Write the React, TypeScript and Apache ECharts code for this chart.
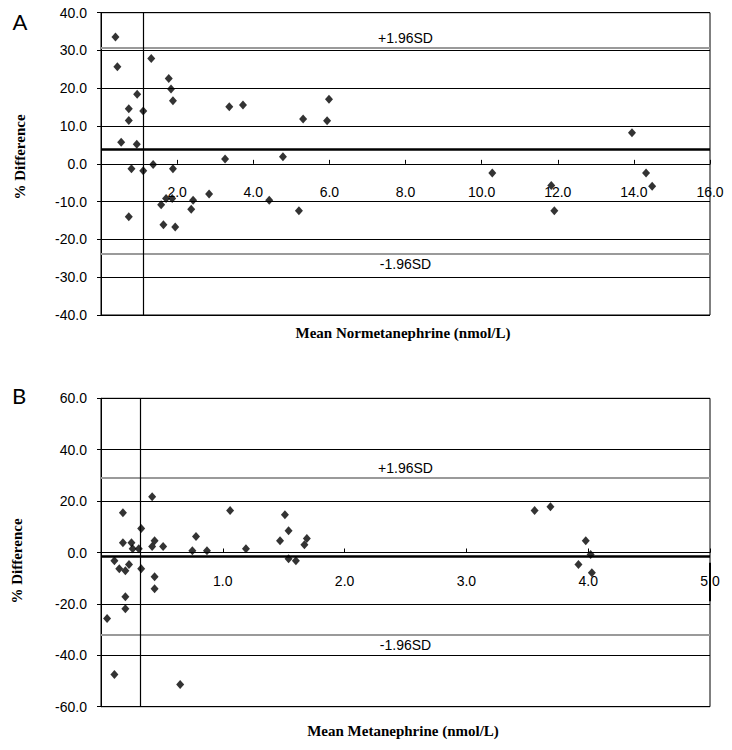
import React, { useEffect, useRef } from "react";
import * as echarts from "echarts";

// Panel A: Normetanephrine
const normX = [0.38, 0.43, 1.32, 1.78, 1.84, 1.89, 0.95, 0.73, 0.73, 1.11, 0.53, 0.94, 0.8, 1.11, 1.37, 1.89, 0.73, 1.58, 1.71, 1.87, 1.64, 1.95, 2.42, 2.37, 2.84, 3.26, 3.37, 3.73, 4.42, 4.78, 5.2, 5.31, 5.94, 5.99, 13.95, 10.28, 14.32, 11.83, 14.48, 11.91];
const normDiff = [33.6, 25.7, 27.9, 22.6, 19.8, 16.7, 18.4, 14.6, 11.5, 14.0, 5.7, 5.2, -1.3, -1.8, -0.2, -1.3, -14.0, -10.8, -9.2, -9.2, -16.1, -16.7, -9.6, -12.0, -8.0, 1.3, 15.1, 15.6, -9.6, 1.9, -12.4, 11.9, 11.4, 17.1, 8.2, -2.4, -2.4, -5.7, -5.9, -12.4];
const normMean = 3.8;
const normUpper = 30.7;
const normLower = -23.9;
const normCross = 1.1;

// Panel B: Metanephrine
const metaX = [0.05, 0.11, 0.11, 0.15, 0.18, 0.18, 0.2, 0.2, 0.2, 0.23, 0.25, 0.26, 0.31, 0.33, 0.33, 0.42, 0.42, 0.44, 0.44, 0.44, 0.51, 0.65, 0.75, 0.78, 0.87, 1.06, 1.19, 1.47, 1.51, 1.54, 1.54, 1.6, 1.67, 1.69, 3.56, 3.69, 3.98, 4.02, 3.92, 4.03];
const metaDiff = [-25.7, -47.5, -3.2, -6.3, 15.5, 3.8, -7.1, -17.2, -21.9, -4.7, 3.8, 1.5, 1.5, 9.3, -6.3, 21.7, 2.3, 4.6, -9.4, -14.1, 2.3, -51.4, 0.7, 6.2, 0.7, 16.3, 1.5, 4.6, 14.7, 8.5, -2.4, -3.2, 3.0, 5.4, 16.3, 17.8, 4.6, -0.8, -4.7, -7.9];
const metaMean = -1.4;
const metaUpper = 28.9;
const metaLower = -32.1;
const metaCross = 0.32;

const LABEL_FONT = "'Liberation Sans', Arial, sans-serif";
const TITLE_FONT = "'Liberation Serif', 'Times New Roman', serif";

function limitLines(mean: number, upper: number, lower: number, cross: number, extra: any[] = []) {
  return {
    silent: true,
    symbol: "none",
    animation: false,
    lineStyle: { type: "solid", color: "#000" },
    data: [
      {
        yAxis: mean,
        lineStyle: { color: "#000", width: 2.5, type: "solid" },
        label: { show: false },
      },
      {
        yAxis: upper,
        lineStyle: { color: "#9a9a9a", width: 2, type: "solid" },
        label: {
          show: true,
          position: "insideMiddleTop",
          formatter: "+1.96SD",
          color: "#000",
          fontSize: 14,
          fontFamily: LABEL_FONT,
          distance: 3,
        },
      },
      {
        yAxis: lower,
        lineStyle: { color: "#9a9a9a", width: 2, type: "solid" },
        label: {
          show: true,
          position: "insideMiddleBottom",
          formatter: "-1.96SD",
          color: "#000",
          fontSize: 14,
          fontFamily: LABEL_FONT,
          distance: 3,
        },
      },
      {
        xAxis: cross,
        lineStyle: { color: "#000", width: 1.2, type: "solid" },
        label: { show: false },
      },
      ...extra,
    ],
  };
}

// x axis is drawn at y = 0: shifted up from the bottom by half the grid height
function xAxisDef(gridIndex: number, max: number, interval: number, zeroOffset: number) {
  return {
    type: "value",
    gridIndex,
    min: 0,
    max,
    interval,
    position: "bottom",
    offset: -zeroOffset,
    axisLine: { show: true, onZero: false, lineStyle: { color: "#000", width: 1 } },
    axisTick: { show: true, inside: true, length: 4, lineStyle: { color: "#000" } },
    axisLabel: {
      showMinLabel: false,
      formatter: (v: number) => v.toFixed(1),
      margin: 21,
      color: "#000",
      fontSize: 14,
      fontFamily: LABEL_FONT,
    },
    splitLine: { show: false },
  };
}

function yAxisDef(gridIndex: number, min: number, max: number, interval: number) {
  return {
    type: "value",
    gridIndex,
    min,
    max,
    interval,
    axisLine: { show: true, onZero: false, lineStyle: { color: "#000", width: 1 } },
    axisTick: { show: true, inside: false, length: 4, lineStyle: { color: "#000" } },
    axisLabel: {
      formatter: (v: number) => v.toFixed(1),
      margin: 14,
      color: "#000",
      fontSize: 14,
      fontFamily: LABEL_FONT,
    },
    splitLine: { show: true, lineStyle: { color: "#000", width: 1 } },
  };
}

export default function App() {
  const ref = useRef<HTMLDivElement>(null);

  useEffect(() => {
    if (!ref.current) return;
    const chart = echarts.init(ref.current, undefined, { renderer: "svg" });
    const textStyle = (text: string, size: number, family: string, weight = "normal") => ({
      text,
      fontSize: size,
      fontFamily: family,
      fontWeight: weight,
      fill: "#000",
      textAlign: "center",
      textVerticalAlign: "middle",
    });
    const hA = 302.3;
    const hB = 308.4;
    chart.setOption({
      animation: false,
      backgroundColor: "#fff",
      grid: [
        { left: 101, top: 12.7, width: 609, height: hA, show: true, borderColor: "#000", borderWidth: 1, backgroundColor: "transparent" },
        { left: 101, top: 398.3, width: 609, height: hB, show: true, borderColor: "#000", borderWidth: 1, backgroundColor: "transparent" },
      ],
      xAxis: [xAxisDef(0, 16, 2, hA / 2), xAxisDef(1, 5, 1, hB / 2)],
      yAxis: [yAxisDef(0, -40, 40, 10), yAxisDef(1, -60, 60, 20)],
      series: [
        {
          type: "scatter",
          xAxisIndex: 0,
          yAxisIndex: 0,
          symbol: "diamond",
          symbolSize: [8, 9],
          itemStyle: { color: "#000" },
          data: normX.map((x, i) => [x, normDiff[i]]),
          markLine: limitLines(normMean, normUpper, normLower, normCross),
        },
        {
          type: "scatter",
          xAxisIndex: 1,
          yAxisIndex: 1,
          symbol: "diamond",
          symbolSize: [8, 9],
          itemStyle: { color: "#000" },
          data: metaX.map((x, i) => [x, metaDiff[i]]),
          markLine: limitLines(metaMean, metaUpper, metaLower, metaCross, [
            [
              { coord: [5, -4], lineStyle: { color: "#000", width: 2, type: "solid" }, label: { show: false } },
              { coord: [5, -19] },
            ],
          ]),
        },
      ],
      graphic: [
        { type: "text", x: 20, y: 21, style: textStyle("A", 22, "Lato, 'Liberation Sans', sans-serif") },
        { type: "text", x: 19, y: 395, style: textStyle("B", 22, "Lato, 'Liberation Sans', sans-serif") },
        { type: "text", x: 20, y: 157, rotation: Math.PI / 2, style: textStyle("% Difference", 15, TITLE_FONT, "bold") },
        { type: "text", x: 17, y: 561, rotation: Math.PI / 2, style: textStyle("% Difference", 15, TITLE_FONT, "bold") },
        { type: "text", x: 403, y: 333, style: textStyle("Mean Normetanephrine (nmol/L)", 15, TITLE_FONT, "bold") },
        { type: "text", x: 403, y: 731, style: textStyle("Mean Metanephrine (nmol/L)", 15, TITLE_FONT, "bold") },
      ],
    });
    return () => chart.dispose();
  }, []);

  return (
    <div
      ref={ref}
      style={{ position: "absolute", left: 0, top: 0, width: 732, height: 750, background: "#fff" }}
    />
  );
}
